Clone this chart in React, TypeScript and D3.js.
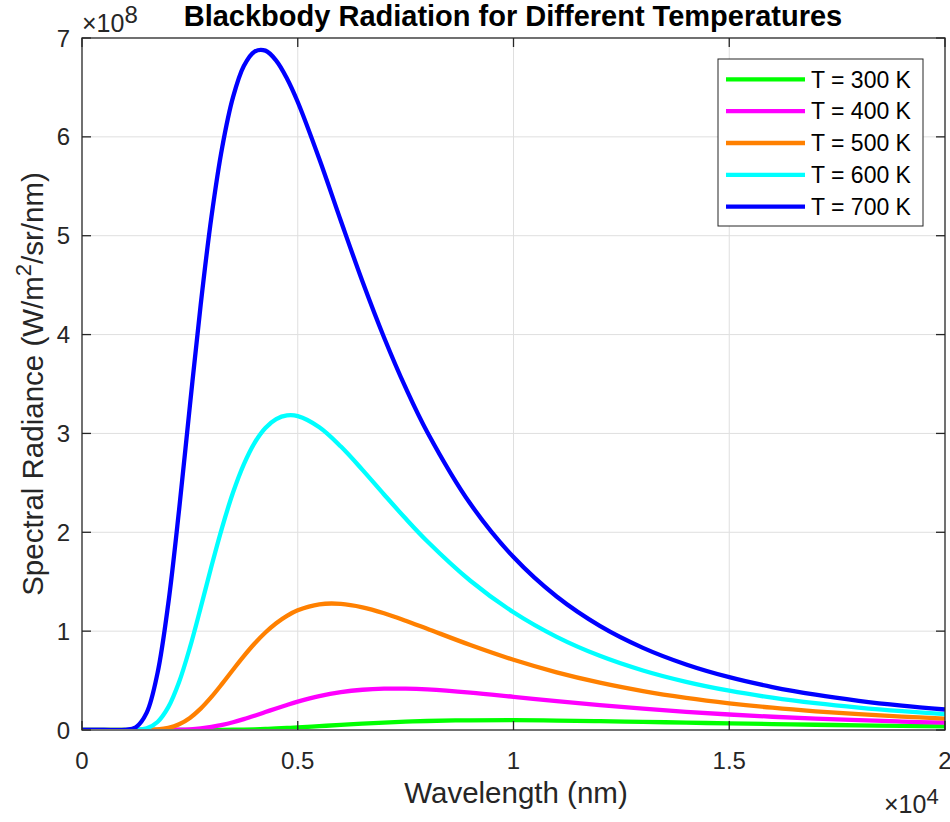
import React from "react";
import * as d3 from "d3";

// Wavelength samples (nm)
const wavelengths = [0, 500, 1000, 1250, 1500, 1750, 2000, 2250, 2500, 2750, 3000, 3250, 3500, 3750, 4000, 4250, 4500, 4750, 5000, 5500, 6000, 6500, 7000, 7500, 8000, 9000, 10000, 11000, 12000, 13000, 14000, 15000, 16000, 17000, 18000, 19000, 20000];

// Spectral radiance values (x 1e8)
const t300 = [0, 0, 0, 0, 0, 0, 0, 0, 0, 0, 0.0006, 0.0013, 0.0025, 0.0045, 0.0072, 0.0108, 0.0152, 0.0203, 0.026, 0.0387, 0.0517, 0.0642, 0.0751, 0.084, 0.0908, 0.0983, 0.0992, 0.0957, 0.0896, 0.0822, 0.0745, 0.0668, 0.0597, 0.0531, 0.0472, 0.0419, 0.0372];
const t400 = [0, 0, 0, 0, 0, 0.0001, 0.0006, 0.0024, 0.0069, 0.0158, 0.0304, 0.0513, 0.078, 0.1097, 0.1447, 0.1813, 0.2181, 0.2535, 0.2865, 0.3424, 0.3826, 0.4072, 0.4182, 0.4182, 0.4099, 0.3777, 0.3356, 0.2922, 0.2515, 0.2152, 0.1837, 0.1568, 0.1341, 0.115, 0.0989, 0.0853, 0.0738];
const t500 = [0, 0, 0, 0, 0.0007, 0.0052, 0.021, 0.0577, 0.1223, 0.2162, 0.3346, 0.469, 0.6098, 0.7472, 0.8743, 0.9862, 1.08, 1.1547, 1.2106, 1.2713, 1.2761, 1.2414, 1.1812, 1.1059, 1.0242, 0.8595, 0.7101, 0.5831, 0.4786, 0.3937, 0.3252, 0.27, 0.2254, 0.1892, 0.1597, 0.1356, 0.1157];
const t600 = [0, 0, 0, 0.0018, 0.0179, 0.0812, 0.231, 0.4856, 0.8327, 1.2368, 1.6558, 2.0528, 2.402, 2.6873, 2.905, 3.0554, 3.1455, 3.1825, 3.1753, 3.063, 2.8674, 2.6315, 2.3825, 2.1388, 1.9094, 1.5097, 1.1909, 0.9426, 0.7507, 0.6024, 0.4873, 0.3974, 0.3268, 0.2707, 0.226, 0.1899, 0.1607];
const t700 = [0, 0, 0.0014, 0.0282, 0.1755, 0.5754, 1.281, 2.227, 3.279, 4.3, 5.192, 5.897, 6.402, 6.717, 6.863, 6.872, 6.772, 6.591, 6.353, 5.776, 5.149, 4.537, 3.971, 3.4628, 3.015, 2.288, 1.749, 1.35, 1.0533, 0.831, 0.6629, 0.5341, 0.4347, 0.3569, 0.2956, 0.2467, 0.2074];

const seriesNames = ["T = 300 K", "T = 400 K", "T = 500 K", "T = 600 K", "T = 700 K"];
const seriesValues = [t300, t400, t500, t600, t700];
const seriesColors = ["#00ff00", "#ff00ff", "#ff8000", "#00ffff", "#0000ff"];

const xTicks = [0, 5000, 10000, 15000, 20000];
const xTickLabels = ["0", "0.5", "1", "1.5", "2"];
const yTicks = [0, 1, 2, 3, 4, 5, 6, 7];

const FONT = "'Liberation Sans', Arial, Helvetica, sans-serif";
const AX = "#262626";

export default function App() {
  const W = 950, H = 822;
  const L = 82, R = 945, T = 38, B = 730;
  const x = d3.scaleLinear().domain([0, 20000]).range([L, R]);
  const y = d3.scaleLinear().domain([0, 7]).range([B, T]);
  const line = d3.line<[number, number]>()
    .x((d) => x(d[0]))
    .y((d) => y(Math.max(0, d[1])))
    .curve(d3.curveCatmullRom.alpha(0.5));
  const tickLen = 9;
  const legX = 718, legY = 59, legW = 205, legH = 167, rowH = 31.85;

  return (
    <svg width={W} height={H} style={{ position: "absolute", left: 0, top: 0, background: "#fff" }} fontFamily={FONT}>
      <defs>
        <clipPath id="clip">
          <rect x={L} y={T - 2} width={R - L} height={B - T + 1} />
        </clipPath>
      </defs>
      <rect x={0} y={0} width={W} height={H} fill="#fff" />
      {/* grid */}
      {xTicks.slice(1, -1).map((t) => (
        <line key={"gx" + t} x1={x(t)} x2={x(t)} y1={T} y2={B} stroke="#dfdfdf" strokeWidth={1} />
      ))}
      {yTicks.slice(1, -1).map((t) => (
        <line key={"gy" + t} x1={L} x2={R} y1={y(t)} y2={y(t)} stroke="#dfdfdf" strokeWidth={1} />
      ))}
      {/* curves */}
      <g clipPath="url(#clip)">
        {seriesValues.map((vals, i) => (
          <path
            key={seriesNames[i]}
            d={line(wavelengths.map((w, j) => [w, vals[j]] as [number, number])) || ""}
            fill="none"
            stroke={seriesColors[i]}
            strokeWidth={4.3}
            strokeLinejoin="round"
          />
        ))}
      </g>
      {/* axes box */}
      <rect x={L} y={T} width={R - L} height={B - T} fill="none" stroke={AX} strokeWidth={1.3} />
      {/* ticks */}
      {xTicks.map((t) => (
        <g key={"xt" + t}>
          <line x1={x(t)} x2={x(t)} y1={B} y2={B - tickLen} stroke={AX} strokeWidth={1.3} />
          <line x1={x(t)} x2={x(t)} y1={T} y2={T + tickLen} stroke={AX} strokeWidth={1.3} />
        </g>
      ))}
      {yTicks.map((t) => (
        <g key={"yt" + t}>
          <line x1={L} x2={L + tickLen} y1={y(t)} y2={y(t)} stroke={AX} strokeWidth={1.3} />
          <line x1={R} x2={R - tickLen} y1={y(t)} y2={y(t)} stroke={AX} strokeWidth={1.3} />
        </g>
      ))}
      {/* tick labels */}
      {xTicks.map((t, i) => (
        <text key={"xl" + t} x={x(t)} y={768.5} textAnchor="middle" fontSize={24} fill={AX}>
          {xTickLabels[i]}
        </text>
      ))}
      {yTicks.map((t) => (
        <text key={"yl" + t} x={70} y={y(t) + 8.5} textAnchor="end" fontSize={24} fill={AX}>
          {t}
        </text>
      ))}
      {/* exponents */}
      <text x={82} y={32} fontSize={25} fill={AX}>
        ×10<tspan dy={-9.5} fontSize={24}>8</tspan>
      </text>
      <text x={884} y={813} fontSize={25} fill={AX}>
        ×10<tspan dy={-9} fontSize={22}>4</tspan>
      </text>
      {/* axis labels */}
      <text x={516} y={803} textAnchor="middle" fontSize={29.5} fill={AX}>
        Wavelength (nm)
      </text>
      <text transform={`translate(43,${(T + B) / 2}) rotate(-90)`} textAnchor="middle" fontSize={29.5} fill={AX}>
        Spectral Radiance (W/m<tspan dy={-12} fontSize={22}>2</tspan><tspan dy={12}>/sr/nm)</tspan>
      </text>
      {/* title */}
      <text x={513} y={26} textAnchor="middle" fontSize={29} fontWeight="bold" fill="#000">
        Blackbody Radiation for Different Temperatures
      </text>
      {/* legend */}
      <rect x={legX} y={legY} width={legW} height={legH} fill="#fff" stroke={AX} strokeWidth={1} />
      {seriesNames.map((n, i) => {
        const cy = legY + 20.3 + i * rowH;
        return (
          <g key={"leg" + n}>
            <line x1={726} x2={805} y1={cy} y2={cy} stroke={seriesColors[i]} strokeWidth={4.3} />
            <text x={811} y={cy + 8.2} fontSize={23} fill="#000">
              {n}
            </text>
          </g>
        );
      })}
    </svg>
  );
}
